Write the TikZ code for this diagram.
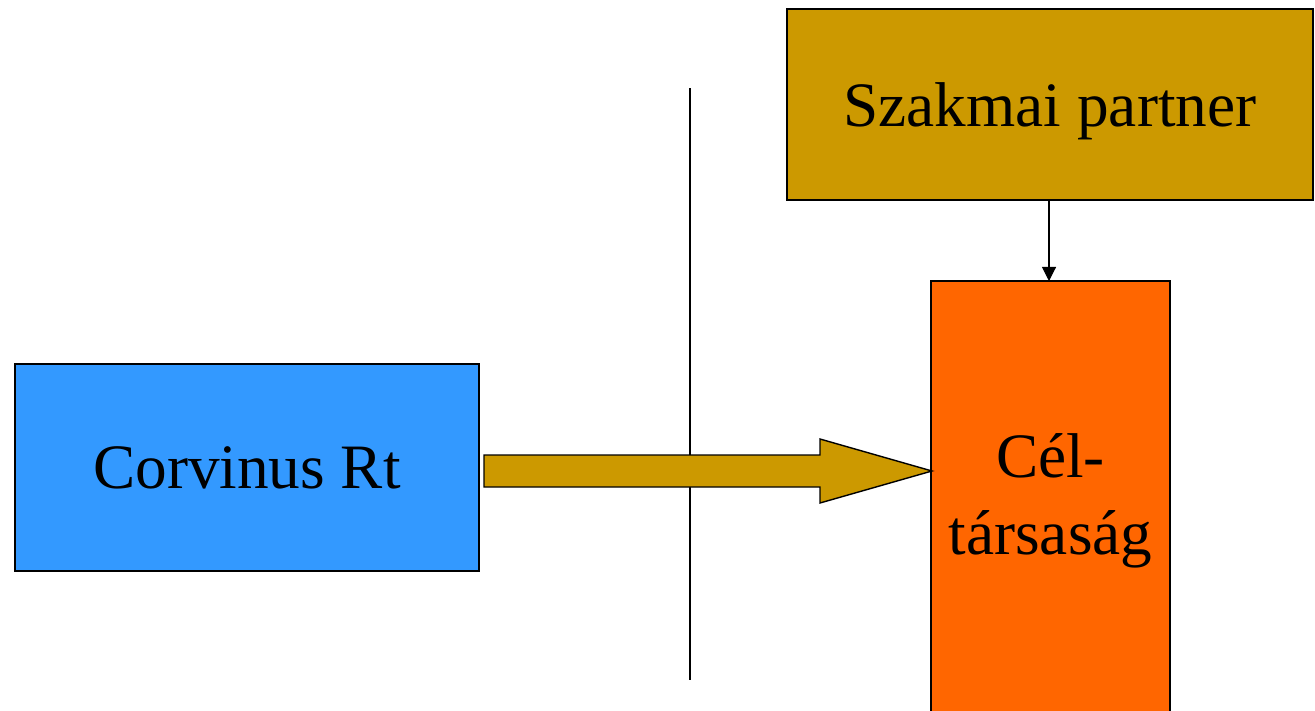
\documentclass[tikz,border=0pt]{standalone}
\usepackage{fontspec}
\setmainfont{Liberation Serif}
\usetikzlibrary{arrows.meta}

\begin{document}
\begin{tikzpicture}[x=0.02cm, y=-0.02cm,
            every node/.style={font=\fontsize{36}{44}\selectfont}]
            \tikzstyle{boxStyle} = [draw=black, line width=0.8pt, inner sep=0pt, align=center]
            \tikzstyle{thinEdge} = [draw=black, line width=0.6pt]
            \definecolor{corvBlue}{HTML}{3399FF}
            \definecolor{goldBox}{HTML}{CC9900}
            \definecolor{targetOrange}{HTML}{FF6600}
            \clip (0,0) rectangle (1315,710);
            \useasboundingbox (0,0) rectangle (1315,710);
            \node[boxStyle, fill=corvBlue, minimum width=9.28cm, minimum height=4.14cm]
                (corvinus) at (247,467.5) {Corvinus Rt};
            \node[boxStyle, fill=goldBox, minimum width=10.52cm, minimum height=3.82cm,
                text depth=0pt] (partner) at (1050,104.5) {Szakmai partner};
            \node[boxStyle, fill=targetOrange, minimum width=4.78cm, minimum height=8.8cm]
                (cel) at (1050.5,501) {Cél-\\társaság};
            % boundary line
            \coordinate (lineTop) at (690,88);
            \coordinate (lineBot) at (690,680);
            \draw[thinEdge] (lineTop) -- (lineBot);
            % block arrow
            \draw[boxStyle, fill=goldBox, line join=miter]
                (484,455) -- (820,455) -- (820,439) -- (932,471)
                -- (820,503) -- (820,487) -- (484,487) -- cycle;
            \coordinate (partnerFoot) at (1049,200);
            \coordinate (celHead) at (1049,281);
            \draw[thinEdge, -{Triangle[width=8pt,length=8pt]}] (partnerFoot) -- (celHead);
\end{tikzpicture}
\end{document}
